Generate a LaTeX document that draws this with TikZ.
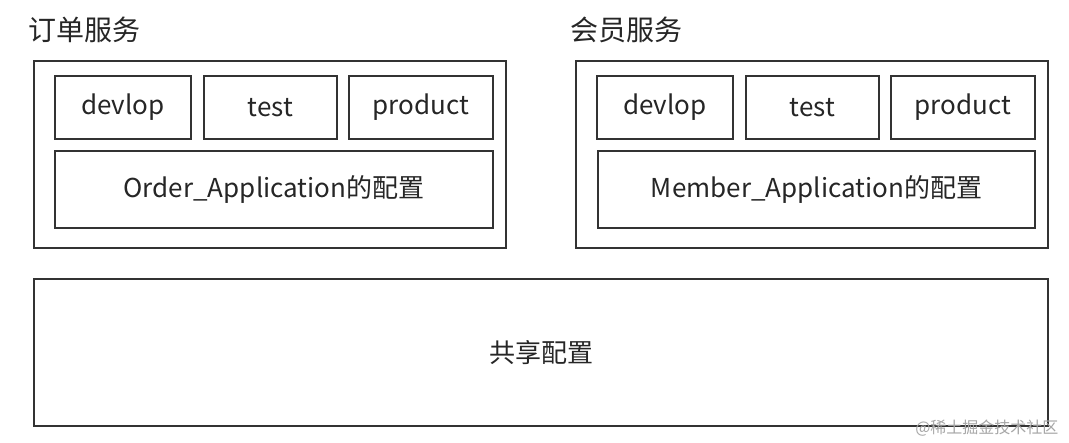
\documentclass[tikz,border=0pt]{standalone}
\usepackage{fontspec}
\setmainfont{Noto Sans CJK SC}
\begin{document}
\begin{tikzpicture}[x=1pt,y=-1pt,
  box/.style={draw=black!80,line width=1.3pt},
  lbl/.style={font=\fontsize{26}{30}\selectfont,text=black!85},
  ttl/.style={font=\fontsize{28}{32}\selectfont,text=black!85}]
\useasboundingbox[fill=white] (0,0) rectangle (1069,443);
\node[ttl,anchor=west,inner sep=0pt] (t1) at (28,30) {订单服务};
\node[ttl,anchor=west,inner sep=0pt] (t2) at (570,30) {会员服务};
\draw[box] (34,61) rectangle (506,248);
\draw[box] (576,61) rectangle (1048,248);
\foreach \o/\n in {0/a,542/b}{
  \draw[box] (55+\o,76) rectangle node[lbl] (d\n) {devlop} (191+\o,139);
  \draw[box] (204+\o,76) rectangle node[lbl] (s\n) {test} (337+\o,139);
  \draw[box] (349+\o,76) rectangle node[lbl] (p\n) {product} (493+\o,139);
}
\draw[box] (55,151) rectangle node[lbl] (oa) {Order\_Application的配置} (493,228);
\draw[box] (598,151) rectangle node[lbl] (ma) {Member\_Application的配置} (1035,228);
\draw[box] (34,279) rectangle node[lbl] (sh) {共享配置} (1048,426);
\node[font=\fontsize{16}{18}\selectfont,text=black!35,anchor=east] (wm) at (1062,428) {@稀土掘金技术社区};
\end{tikzpicture}
\end{document}
